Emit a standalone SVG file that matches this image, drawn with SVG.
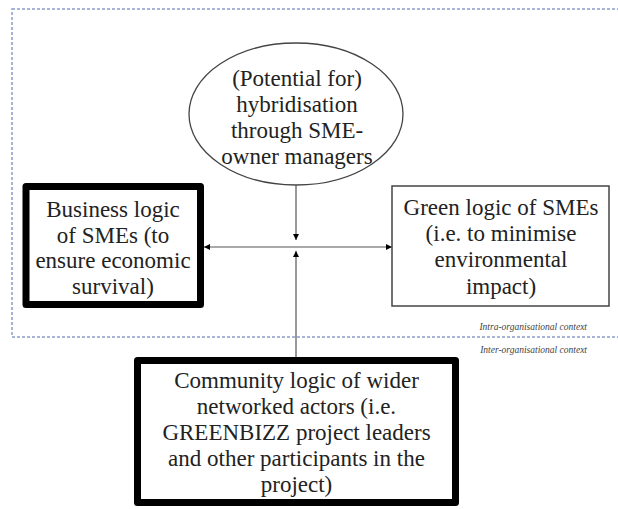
<svg xmlns="http://www.w3.org/2000/svg" width="618" height="509" viewBox="0 0 618 509">
<style>
  .t { font-family: "Liberation Serif", "DejaVu Serif", serif; font-size: 23px; fill: #222; text-anchor: middle; }
  .ctx { font-family: "Liberation Serif", "DejaVu Serif", serif; font-size: 9.5px; font-style: italic; fill: #444; text-anchor: end; }
  .thick { fill: #fff; stroke: #000; stroke-width: 7; stroke-linejoin: round; }
  .thin { fill: #fff; stroke: #444; stroke-width: 1.5; }
  .conn { stroke: #555; stroke-width: 1.2; fill: none; }
</style>
<defs>
  <marker id="ah" viewBox="0 0 10 10" refX="10" refY="5" markerWidth="6" markerHeight="6" markerUnits="userSpaceOnUse" orient="auto">
    <path d="M0,0 L10,5 L0,10 z" fill="#000"/>
  </marker>
</defs>
<rect x="12" y="9" width="640" height="328" fill="none" stroke="#8a9ccc" stroke-width="1.5" stroke-dasharray="3 2"/>
<text class="ctx" x="587" y="330">Intra-organisational context</text>
<text class="ctx" x="587" y="353">Inter-organisational context</text>
<g id="connectors">
  <line class="conn" x1="296" y1="185" x2="296" y2="240" marker-end="url(#ah)"/>
  <line class="conn" x1="296" y1="357" x2="296" y2="251" marker-end="url(#ah)"/>
  <line class="conn" x1="250" y1="247" x2="204" y2="247" marker-end="url(#ah)"/>
  <line class="conn" x1="250" y1="247" x2="392" y2="247" marker-end="url(#ah)"/>
</g>
<g id="hybrid">
  <ellipse cx="296" cy="114" rx="107" ry="71" fill="#fff" stroke="#444" stroke-width="1.3"/>
  <text class="t" x="297" y="86">(Potential for)</text>
  <text class="t" x="297" y="112">hybridisation</text>
  <text class="t" x="297" y="138">through SME-</text>
  <text class="t" x="297" y="164">owner managers</text>
</g>
<g id="business">
  <rect class="thick" x="26" y="186.5" width="174.5" height="118"/>
  <text class="t" x="113" y="217">Business logic</text>
  <text class="t" x="113" y="243">of SMEs (to</text>
  <text class="t" x="113" y="268">ensure economic</text>
  <text class="t" x="113" y="294">survival)</text>
</g>
<g id="green">
  <rect class="thin" x="392" y="186" width="217" height="120"/>
  <text class="t" x="501" y="215">Green logic of SMEs</text>
  <text class="t" x="501" y="241">(i.e. to minimise</text>
  <text class="t" x="501" y="267">environmental</text>
  <text class="t" x="501" y="294">impact)</text>
</g>
<g id="community">
  <rect class="thick" x="137.5" y="360.5" width="318" height="142"/>
  <text class="t" x="296.5" y="388">Community logic of wider</text>
  <text class="t" x="296.5" y="414">networked actors (i.e.</text>
  <text class="t" x="296.5" y="440">GREENBIZZ project leaders</text>
  <text class="t" x="296.5" y="466">and other participants in the</text>
  <text class="t" x="296.5" y="492">project)</text>
</g>
</svg>
